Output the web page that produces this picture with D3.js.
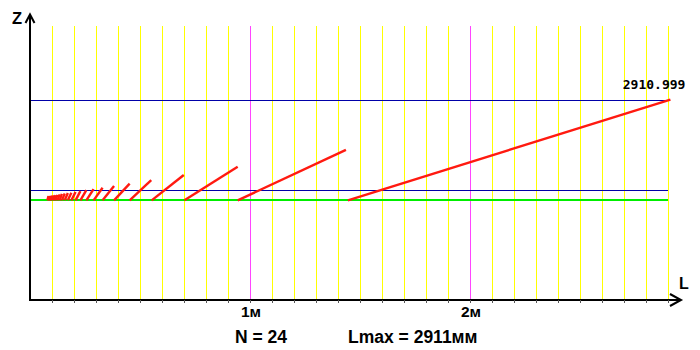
<!DOCTYPE html>
<html><head><meta charset="utf-8">
<script src="https://cdn.jsdelivr.net/npm/d3@7"></script>
<style>html,body{margin:0;padding:0;background:#fff;}svg{display:block;}</style>
</head><body>
<script>
// ---- data (mm) ----
const gridTicks = [100,200,300,400,500,600,700,800,900,1000,1100,1200,1300,1400,1500,1600,1700,1800,1900,2000,2100,2200,2300,2400,2500,2600,2700,2800,2900];
const majorTicks = [1000, 2000];
const majorLabels = ["1м", "2м"];
// segment k (1..24): start L, end L, rise in Z above base
const segIndex = [1,2,3,4,5,6,7,8,9,10,11,12,13,14,15,16,17,18,19,20,21,22,23,24];
const segStart = [1445, 944, 702, 553, 453, 382, 330, 289, 256, 229, 207, 188, 172, 158, 145, 135, 125, 116, 109, 102, 95, 89, 84, 79];
const segEnd   = [2911, 1436, 944, 699, 551, 453, 382, 330, 289, 256, 229, 207, 188, 172, 158, 145, 135, 125, 116, 109, 102, 95, 89, 84];
const segRise  = [458, 229, 153, 115, 92, 76, 65, 57, 51, 46, 42, 38, 35, 33, 31, 29, 27, 25, 24, 23, 22, 21, 20, 19];
const zBase = 453;          // green base line
const zRefLines = [499, 908]; // blue reference lines
const endLabel = "2910.999";
const nText = "N = 24";
const lmaxText = "Lmax = 2911мм";

const W = 700, H = 350;
const svg = d3.select("body").append("svg").attr("width", W).attr("height", H);

const x = d3.scaleLinear().domain([0, 2900]).range([30, 668]);
const y = d3.scaleLinear().domain([0, 1000]).range([300, 80]);
const gridTop = 26;

// grid
svg.append("g").selectAll("line").data(gridTicks).join("line")
  .attr("x1", d => Math.round(x(d)) + 0.5).attr("x2", d => Math.round(x(d)) + 0.5)
  .attr("y1", gridTop).attr("y2", y(0))
  .attr("stroke", d => majorTicks.includes(d) ? "#ff44ff" : "#ffff00")
  .attr("stroke-width", 1);

// reference lines
svg.append("g").selectAll("line").data(zRefLines).join("line")
  .attr("x1", x(0)).attr("x2", x(2900))
  .attr("y1", d => Math.round(y(d)) + 0.5).attr("y2", d => Math.round(y(d)) + 0.5)
  .attr("stroke", "#0000a8").attr("stroke-width", 1);
svg.append("line")
  .attr("x1", x(0)).attr("x2", x(2900))
  .attr("y1", Math.round(y(zBase))).attr("y2", Math.round(y(zBase)))
  .attr("stroke", "#00ee00").attr("stroke-width", 2);

// segments
svg.append("g").selectAll("line").data(segIndex).join("line")
  .attr("x1", (d,i) => x(segStart[i])).attr("y1", y(zBase))
  .attr("x2", (d,i) => x(segEnd[i])).attr("y2", (d,i) => y(zBase + segRise[i]))
  .attr("stroke", "#ff1a10").attr("stroke-width", 2.4);

// end label
svg.append("text").attr("x", x(segEnd[0]) + 15).attr("y", 89)
  .attr("text-anchor", "end")
  .style("font-family", "DejaVu Sans Mono, monospace").style("font-size", "13px").style("font-weight", "bold")
  .text(endLabel);

// axes
const axisG = svg.append("g").attr("stroke", "#000").attr("stroke-width", 2).attr("fill", "none");
axisG.append("line").attr("x1", 30).attr("x2", 30).attr("y1", 301).attr("y2", 14);
axisG.append("line").attr("x1", 29).attr("x2", 681).attr("y1", 300).attr("y2", 300);
axisG.append("path").attr("d", "M25.5,23L30,14.5L34.5,23");
axisG.append("path").attr("d", "M670,294L681,300L670,306");

// small ticks
svg.append("g").call(d3.axisBottom(x).tickValues(gridTicks).tickSize(3).tickFormat(""))
  .attr("transform", "translate(0,300)")
  .call(g => g.select(".domain").remove())
  .call(g => g.selectAll(".tick line").attr("stroke", "#555"));

// tick labels
svg.append("g").selectAll("text").data(majorTicks).join("text")
  .attr("x", d => x(d) + 1).attr("y", 317).attr("text-anchor", "middle")
  .style("font-family", "Liberation Sans, Arial, sans-serif").style("font-weight", "bold").style("font-size", "15.5px")
  .text((d,i) => majorLabels[i]);

// axis names
svg.append("text").attr("x", 12).attr("y", 24)
  .style("font-family", "Liberation Sans, Arial, sans-serif").style("font-weight", "bold").style("font-size", "16.5px").text("Z");
svg.append("text").attr("x", 679).attr("y", 289)
  .style("font-family", "Liberation Sans, Arial, sans-serif").style("font-weight", "bold").style("font-size", "16px").text("L");

// bottom texts
svg.append("text").attr("x", 235).attr("y", 343)
  .style("font-family", "Liberation Sans, Arial, sans-serif").style("font-weight", "bold").style("font-size", "17.5px").text(nText);
svg.append("text").attr("x", 348).attr("y", 343)
  .style("font-family", "Liberation Sans, Arial, sans-serif").style("font-weight", "bold").style("font-size", "17.5px").text(lmaxText);
</script>
</body></html>
